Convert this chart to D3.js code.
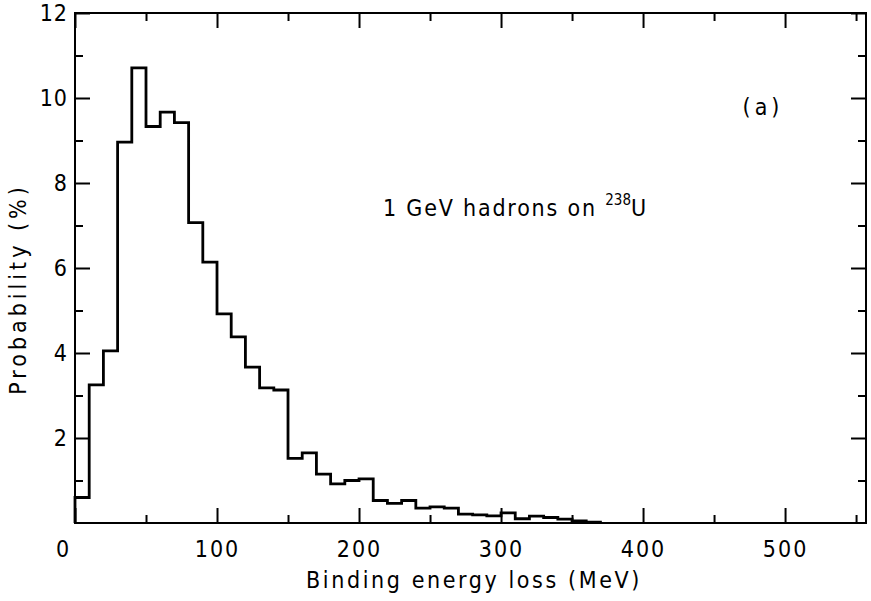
<!DOCTYPE html>
<html>
<head>
<meta charset="utf-8">
<script src="https://cdn.jsdelivr.net/npm/d3@7"></script>
<style>
  html, body { margin: 0; padding: 0; background: #fff; }
  svg { display: block; }
  text { font-family: "Liberation Sans Narrow", "DejaVu Sans Condensed", "Liberation Sans", sans-serif; fill: #000; }
</style>
</head>
<body>
<svg id="chart" width="871" height="601"></svg>
<script>
// ---- data ----
const binStarts = [0,10,20,30,40,50,60,70,80,90,100,110,120,130,140,150,160,170,180,190,200,210,220,230,240,250,260,270,280,290,300,310,320,330,340,350,360];
const binWidth = 10;
const probability = [0.60,3.25,4.05,8.96,10.71,9.33,9.67,9.42,7.07,6.14,4.92,4.38,3.67,3.18,3.13,1.52,1.65,1.15,0.92,1.00,1.04,0.53,0.46,0.53,0.35,0.38,0.35,0.21,0.19,0.17,0.24,0.10,0.16,0.13,0.09,0.05,0.02];
const xTickValues = [0,100,200,300,400,500];
const xMinorTicks = [50,150,250,350,450,550];
const yTickValues = [2,4,6,8,10,12];
const yMinorTicks = [1,3,5,7,9,11];
const xTitle = "Binding energy loss (MeV)";
const yTitle = "Probability (%)";
const panelLabel = "(a)";

// ---- layout ----
const svg = d3.select("#chart");
const mL = 75, mR = 866, mT = 13, mB = 523;
const x = d3.scaleLinear().domain([0, 557]).range([mL, mR]);
const y = d3.scaleLinear().domain([0, 12]).range([mB, mT]);
const major = 15, minor = 8;

// frame
svg.append("rect").attr("x", mL).attr("y", mT)
  .attr("width", mR - mL).attr("height", mB - mT)
  .attr("fill", "none").attr("stroke", "#000").attr("stroke-width", 2);

// axes with inward ticks
const gx = svg.append("g").attr("transform", `translate(0,${mB})`)
  .call(d3.axisBottom(x).tickValues(xTickValues).tickSize(-major).tickFormat(d3.format("d")).tickPadding(0));
gx.select(".domain").remove();
gx.selectAll("line").attr("stroke-width", 2);
gx.selectAll("text").attr("y", 34).attr("font-size", 23).attr("dy", 0).style("letter-spacing", "2px")
  .attr("dx", d => d === 0 ? -12 : 0);

svg.append("g").attr("transform", `translate(0,${mB})`)
  .call(d3.axisBottom(x).tickValues(xMinorTicks).tickSize(-minor).tickFormat(""))
  .call(g => g.select(".domain").remove())
  .selectAll("line").attr("stroke-width", 2);

const gxt = svg.append("g").attr("transform", `translate(0,${mT})`)
  .call(d3.axisTop(x).tickValues(xTickValues).tickSize(-major).tickFormat(""));
gxt.select(".domain").remove();
gxt.selectAll("line").attr("stroke-width", 2);
svg.append("g").attr("transform", `translate(0,${mT})`)
  .call(d3.axisTop(x).tickValues(xMinorTicks).tickSize(-minor).tickFormat(""))
  .call(g => g.select(".domain").remove())
  .selectAll("line").attr("stroke-width", 2);

const gy = svg.append("g").attr("transform", `translate(${mL},0)`)
  .call(d3.axisLeft(y).tickValues(yTickValues).tickSize(-major).tickFormat(d3.format("d")).tickPadding(0));
gy.select(".domain").remove();
gy.selectAll("line").attr("stroke-width", 2);
gy.selectAll("text").attr("x", -7).attr("font-size", 23).attr("dy", "0.33em").style("letter-spacing", "1px");

svg.append("g").attr("transform", `translate(${mL},0)`)
  .call(d3.axisLeft(y).tickValues(yMinorTicks).tickSize(-minor).tickFormat(""))
  .call(g => g.select(".domain").remove())
  .selectAll("line").attr("stroke-width", 2);

svg.append("g").attr("transform", `translate(${mR},0)`)
  .call(d3.axisRight(y).tickValues(yTickValues).tickSize(-major).tickFormat(""))
  .call(g => g.select(".domain").remove())
  .selectAll("line").attr("stroke-width", 2);
svg.append("g").attr("transform", `translate(${mR},0)`)
  .call(d3.axisRight(y).tickValues(yMinorTicks).tickSize(-minor).tickFormat(""))
  .call(g => g.select(".domain").remove())
  .selectAll("line").attr("stroke-width", 2);

// histogram step outline
let path = d3.path();
path.moveTo(x(binStarts[0]), y(0));
binStarts.forEach((b, i) => {
  path.lineTo(x(b), y(probability[i]));
  path.lineTo(x(b + binWidth), y(probability[i]));
});
path.lineTo(x(binStarts[binStarts.length - 1] + binWidth), y(0));
svg.append("path").attr("d", path.toString())
  .attr("fill", "none").attr("stroke", "#000").attr("stroke-width", 2.8)
  .attr("stroke-linejoin", "miter");

// titles
svg.append("text").attr("x", 474).attr("y", 588).attr("text-anchor", "middle")
  .attr("font-size", 23).style("letter-spacing", "2.6px").text(xTitle);

svg.append("text").attr("transform", "translate(26,289) rotate(-90)")
  .attr("text-anchor", "middle").attr("font-size", 23).style("letter-spacing", "4px").text(yTitle);

// annotations
svg.append("text").attr("x", 763).attr("y", 115).attr("text-anchor", "middle")
  .attr("font-size", 23).style("letter-spacing", "4px").text(panelLabel);

const ann = svg.append("text").attr("x", 383).attr("y", 216).attr("font-size", 23).style("letter-spacing", "1.8px");
ann.append("tspan").text("1 GeV hadrons on ");
ann.append("tspan").attr("font-size", 15).attr("dy", -11).style("letter-spacing", "0px").text("238");
ann.append("tspan").attr("dy", 11).text("U");
</script>
</body>
</html>
